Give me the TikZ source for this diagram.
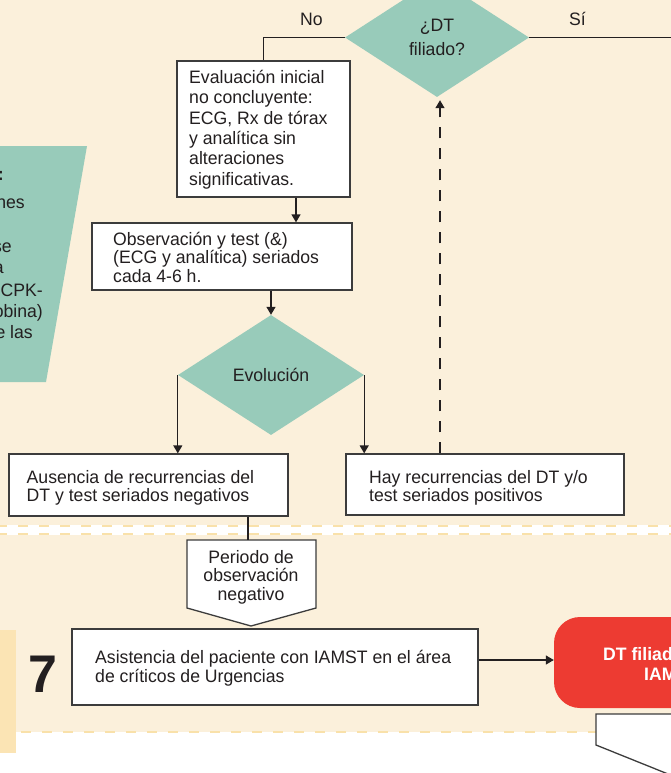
\documentclass[tikz,border=0pt]{standalone}
\usepackage{fontspec}
\setmainfont[FakeStretch=0.98]{Liberation Sans}
\usetikzlibrary{shapes.geometric,arrows.meta}
\definecolor{cream}{RGB}{251,240,219}
\definecolor{dashc}{RGB}{249,225,170}
\definecolor{bandc}{RGB}{251,228,180}
\definecolor{tealc}{RGB}{152,203,186}
\definecolor{redc}{RGB}{237,59,50}
\definecolor{ink}{RGB}{35,31,32}
\definecolor{edgec}{RGB}{60,60,60}
\newcommand\firstln{\rule{0pt}{17pt}}
\begin{document}
\begin{tikzpicture}[x=1pt,y=-1pt,
  txt/.style={font=\fontsize{18}{18.5}\selectfont, text=ink, inner sep=0pt},
  boxr/.style={draw=edgec, fill=white, line width=1.3pt, inner sep=0pt},
  dia/.style={diamond, fill=tealc, inner sep=0pt, align=center, txt},
  ln/.style={draw=ink, line width=1.3pt},
  arr/.style={ln, -{Triangle[length=8pt,width=9pt]}},
  bgdash/.style={draw=dashc, line width=2pt, dash pattern=on 10pt off 11pt}
]
\useasboundingbox (0,0) rectangle (671,773);
\clip (0,0) rectangle (671,773);
% background
\fill[white] (0,0) rectangle (671,773);
\fill[cream] (0,0) rectangle (671,525);
\fill[cream] (0,535) rectangle (671,732);
\draw[bgdash] (-3,526) -- (671,526);
\draw[bgdash] (-3,534) -- (671,534);
\draw[bgdash] (0,732) -- (671,732);
\fill[bandc] (0,630) rectangle (16,753);

% left trapezoid with cut text
\fill[tealc] (-2,146) -- (87,146) -- (46,382) -- (-2,382) -- cycle;
\node[txt, anchor=base east] (g1) at (4,180) {\bfseries :};
\node[txt, anchor=base east] (g2) at (25,208) {nes};
\node[txt, anchor=base east] (g3) at (12,252) {se};
\node[txt, anchor=base east] (g4) at (4,273) {a};
\node[txt, anchor=base east] (g5) at (43,296) {y CPK-};
\node[txt, anchor=base east] (g6) at (43,317) {obina)};
\node[txt, anchor=base east] (g7) at (33,338) {e las};

% top decision
\node[dia, minimum width=184pt, minimum height=119pt,
      font=\fontsize{18}{24}\selectfont] (dt) at (437,37.5) {¿DT\\filiado?};
\node[txt, anchor=base west] (no) at (300,26) {No};
\node[txt, anchor=base west] (si) at (569,26) {Sí};
\coordinate (siend) at (680,37.5);

% boxes
\node[boxr, minimum width=173pt, minimum height=136pt] (eval) at (263.5,129) {};
\node[txt, anchor=north west, align=left, font=\fontsize{18}{20.4}\selectfont] (evalt) at (189,66)
  {\firstln Evaluación inicial\\no concluyente:\\ECG, Rx de tórax\\y analítica sin\\alteraciones\\significativas.};

\node[boxr, minimum width=260pt, minimum height=67pt] (obs) at (222,256.5) {};
\node[txt, anchor=north west, align=left] (obst) at (113,228)
  {\firstln Observación y test (\&)\\(ECG y analítica) seriados\\cada 4-6 h.};

\node[dia, minimum width=186pt, minimum height=120pt] (evo) at (271,375) {Evolución};

\node[boxr, minimum width=279pt, minimum height=62pt] (aus) at (148.5,485) {};
\node[txt, anchor=north west, align=left] (aust) at (26.5,466)
  {\firstln Ausencia de recurrencias del\\DT y test seriados negativos};

\node[boxr, minimum width=278pt, minimum height=61pt] (hay) at (485,484.5) {};
\node[txt, anchor=north west, align=left] (hayt) at (369,466)
  {\firstln Hay recurrencias del DT y/o\\test seriados positivos};

% pentagon
\draw[draw=edgec, fill=white, line width=1.3pt] (187,540) -- (316,540) -- (316,608) -- (251,626) -- (187,608) -- cycle;
\coordinate (pentop) at (248,540);
\node[txt, anchor=north, align=center] (pen) at (251,546)
  {\firstln Periodo de\\observación\\negativo};

\node[boxr, minimum width=406pt, minimum height=76pt] (asis) at (275,667) {};
\node[txt, anchor=north west, align=left, font=\fontsize{18}{19}\selectfont] (asist) at (95,646)
  {\firstln Asistencia del paciente con IAMST en el área\\de críticos de Urgencias};

\node[txt, anchor=base west, font=\fontsize{53}{53}\selectfont\bfseries] (seven) at (28,692) {7};

% red box
\node[fill=redc, rounded corners=26pt, minimum width=246pt, minimum height=91pt, inner sep=0pt] (red) at (677,662.5) {};
\node[txt, anchor=base west, text=white, font=\fontsize{18}{18}\selectfont\bfseries] (redt1) at (603,660) {DT filiado};
\node[txt, anchor=base west, text=white, font=\fontsize{18}{18}\selectfont\bfseries] (redt2) at (644,680) {IAMST};

% lower right white pentagon
\draw[draw=edgec, fill=white, line width=1.3pt] (760,714) -- (596,714) -- (596,745) -- (678,778) -- (760,745);

% connectors
\draw[ln] (dt.west) -| (eval.north);
\draw[ln] (dt.east) -- (siend);
\draw[arr] ([xshift=32.5pt]eval.south) -- ([xshift=32.5pt]eval.south |- obs.north);
\draw[arr] (obs.south -| evo.north) -- (evo.north);
\draw[arr] (evo.west) -- (evo.west |- aus.north);
\draw[arr] (evo.east) -- (evo.east |- hay.north);
\draw[arr, dash pattern=on 11pt off 10pt] ([xshift=3pt]hay.north -| dt.south) -- ([xshift=3pt,yshift=-3pt]dt.south);
\draw[ln] (aus.south -| pentop) -- (pentop);
\draw[arr] ([yshift=7pt]asis.east) -- ([yshift=7pt]asis.east -| red.west);
\end{tikzpicture}
\end{document}
